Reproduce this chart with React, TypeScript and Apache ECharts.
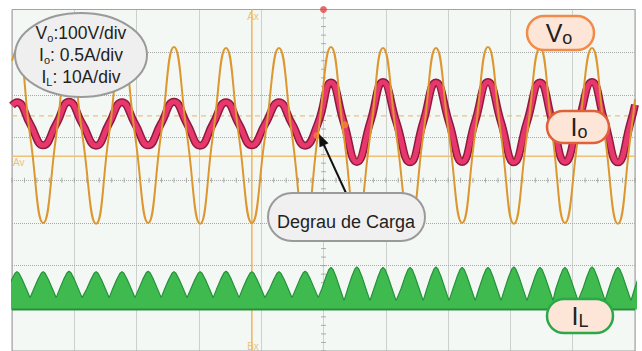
import React, { useEffect, useRef } from "react";
import * as echarts from "echarts";

// Time base: 20 ms/div, 10 divisions. Vertical: screen divisions (-4..4).
const timeMs = [
  0, 1.6, 5.8, 10.0, 14.2, 18.3, 22.6, 27.0, 31.1, 35.3, 39.5, 43.7, 47.8, 52.0,
  56.2, 60.4, 64.5, 68.7, 72.8, 77.0, 81.3, 85.7, 89.9, 94.1, 98.2, 102.4, 106.5,
  110.7, 115.0, 119.1, 123.4, 127.8, 132.0, 136.1, 140.3, 144.5, 148.6, 152.8,
  157.0, 161.1, 165.3, 169.5, 173.5, 177.5, 181.8, 186.2, 190.3, 194.5, 198.6, 200,
];

// Vo (100 V/div) read at peaks, crossings and troughs
const voValues = [
  2.8, 3.1, 1.05, -1.0, 1.05, 3.12, 1.05, -1.02, 1.05, 3.1, 1.05, -1.0, 1.05,
  3.12, 1.05, -1.02, 1.05, 3.1, 1.05, -1.0, 1.05, 3.1, 1.05, -1.02, 1.05, 3.12,
  1.05, -1.0, 1.05, 3.1, 1.05, -1.02, 1.05, 3.1, 1.05, -1.0, 1.05, 3.12, 1.05,
  -1.02, 1.05, 3.1, 1.05, -1.0, 1.05, 3.1, 1.05, -1.02, 1.05, 1.9,
];

// Io (0.5 A/div): small before the load step, larger after it
const ioValues = [
  1.75, 1.83, 1.32, 0.82, 1.32, 1.84, 1.32, 0.81, 1.32, 1.83, 1.32, 0.82, 1.32,
  1.84, 1.32, 0.81, 1.32, 1.83, 1.32, 0.82, 1.32, 1.83, 1.32, 0.81, 1.33, 2.29,
  1.36, 0.43, 1.36, 2.3, 1.36, 0.42, 1.36, 2.29, 1.36, 0.43, 1.36, 2.3, 1.36,
  0.42, 1.36, 2.29, 1.36, 0.43, 1.36, 2.3, 1.36, 0.42, 1.36, 1.77,
];

// IL (10 A/div): rectified humps on top of a switching band
const ilHumpTimes = [
  1.6, 10.0, 18.3, 27.0, 35.3, 43.7, 52.0, 60.4, 68.7, 77.0, 85.7, 94.1, 102.4,
  110.7, 119.1, 127.8, 136.1, 144.5, 152.8, 161.1, 169.5, 177.5, 186.2, 194.5, 202.8,
];
const ilHumpTops = [
  -2.14, -2.14, -2.13, -2.14, -2.14, -2.13, -2.14, -2.14, -2.13, -2.14, -2.14,
  -2.13, -2.04, -2.03, -2.04, -2.04, -2.03, -2.04, -2.04, -2.03, -2.04, -2.04,
  -2.03, -2.04, -2.04,
];
const ilCuspValues = [
  -2.75, -2.75, -2.75, -2.75, -2.75, -2.75, -2.75, -2.75, -2.75, -2.75, -2.75,
  -2.75, -2.82, -2.82, -2.82, -2.82, -2.82, -2.82, -2.82, -2.82, -2.82, -2.82,
  -2.82, -2.82, -2.82,
];
const ilBase = -3.03;
const humpProfileOffsets = [-1, -0.7, -0.4, -0.15, 0, 0.15, 0.4, 0.7, 1];
const humpProfileLevels = [0, 0.35, 0.7, 0.94, 1, 0.94, 0.7, 0.35, 0];
const ilHumpHalfWidth = 4.2;

// Cursors and markers
const cursorAxTime = 77.0;
const cursorAvLevel = 0.56;
const refDashedLevel = 1.51;
const triggerTime = 100;
const stepMarkers = [
  [97.9, 1.05],
  [106.9, 1.3],
];

const FONT = "'Liberation Sans', Arial, Helvetica, sans-serif";

export default function App() {
  const ref = useRef<HTMLDivElement>(null);

  useEffect(() => {
    if (!ref.current) return;
    const chart = echarts.init(ref.current, undefined, { renderer: "svg" });

    const voData = timeMs.map((t, i) => [t, voValues[i]]);
    const ioData = timeMs.map((t, i) => [t, ioValues[i]]);
    const ilData: number[][] = [];
    ilHumpTimes.forEach((c, i) => {
      humpProfileOffsets.forEach((f, j) => {
        if (i > 0 && j === 0) return;
        const base = ilCuspValues[i];
        ilData.push([
          c + f * ilHumpHalfWidth,
          base + (ilHumpTops[i] - base) * humpProfileLevels[j],
        ]);
      });
    });

    const hTicks: number[][] = [];
    for (let k = 0; k <= 50; k++) hTicks.push([k * 4, 0]);
    const vTicks: number[][] = [];
    for (let k = -20; k <= 20; k++) vTicks.push([triggerTime, k * 0.2]);

    const cursorColor = "#efc07a";

    const sub = (main: number, s: number, mlh: number, slh: number) => ({
      m: { fontSize: main, lineHeight: mlh, fontFamily: FONT, fill: "#222" },
      s: { fontSize: s, lineHeight: slh, verticalAlign: "bottom", fontFamily: FONT, fill: "#222" },
    });

    const option: any = {
      animation: false,
      backgroundColor: "#ffffff",
      grid: {
        left: 12,
        top: 9.5,
        width: 623,
        height: 348,
        show: true,
        backgroundColor: "#f4f8f4",
        borderColor: "#9c9c9c",
        borderWidth: 1,
      },
      xAxis: {
        type: "value",
        min: 0,
        max: 200,
        interval: 20,
        axisLabel: { show: false },
        axisTick: { show: false },
        axisLine: { show: false },
        splitLine: { lineStyle: { type: "dotted", color: "#a9a9a9", width: 1 } },
      },
      yAxis: {
        type: "value",
        min: -4,
        max: 4,
        interval: 1,
        axisLabel: { show: false },
        axisTick: { show: false },
        axisLine: { show: false },
        splitLine: { lineStyle: { type: "dotted", color: "#a9a9a9", width: 1 } },
      },
      series: [
        {
          type: "scatter",
          data: hTicks,
          symbol: "rect",
          symbolSize: [1, 5],
          itemStyle: { color: "#9a9a9a" },
          silent: true,
          z: 1,
        },
        {
          type: "scatter",
          data: vTicks,
          symbol: "rect",
          symbolSize: [5, 1],
          itemStyle: { color: "#9a9a9a" },
          silent: true,
          z: 1,
        },
        {
          type: "line",
          data: [
            [0, refDashedLevel],
            [200, refDashedLevel],
          ],
          symbol: "none",
          lineStyle: { color: cursorColor, width: 1.2, type: [5, 4] },
          z: 2,
        },
        {
          type: "line",
          data: [
            [0, cursorAvLevel],
            [200, cursorAvLevel],
          ],
          symbol: "none",
          lineStyle: { color: cursorColor, width: 1.5 },
          z: 2,
        },
        {
          type: "line",
          data: [
            [cursorAxTime, -4],
            [cursorAxTime, 4],
          ],
          symbol: "none",
          lineStyle: { color: "#f0b45a", width: 1.5 },
          z: 2,
        },
        {
          name: "IL",
          type: "line",
          data: ilData,
          symbol: "none",
          lineStyle: { color: "#24923a", width: 1.2 },
          areaStyle: { origin: ilBase, color: "#3fba4f", opacity: 1 },
          z: 3,
        },
        {
          type: "line",
          data: [
            [0, ilBase],
            [200, ilBase],
          ],
          symbol: "none",
          lineStyle: { color: "#2a8c3c", width: 2 },
          z: 3,
        },
        {
          name: "Io-edge",
          type: "line",
          data: ioData,
          smooth: 0.5,
          symbol: "none",
          lineStyle: { color: "#8e1a3e", width: 8 },
          z: 4,
        },
        {
          name: "Io",
          type: "line",
          data: ioData,
          smooth: 0.5,
          symbol: "none",
          lineStyle: { color: "#e8376d", width: 5 },
          z: 5,
        },
        {
          name: "Vo",
          type: "line",
          data: voData,
          smooth: 0.5,
          symbol: "none",
          lineStyle: { color: "#dc9730", width: 2 },
          z: 6,
        },
        {
          type: "scatter",
          data: stepMarkers,
          symbol: "circle",
          symbolSize: 7,
          itemStyle: { color: "#f08a30" },
          z: 7,
        },
        {
          type: "scatter",
          data: [[triggerTime, 4]],
          symbol: "circle",
          symbolSize: 7,
          itemStyle: { color: "#e04848" },
          z: 7,
        },
      ],
      graphic: [
        {
          type: "text",
          style: { text: "Ax", x: 253, y: 16, align: "center", verticalAlign: "middle", fontSize: 10, fontFamily: FONT, fill: "#efc07a" },
          z: 50,
        },
        {
          type: "text",
          style: { text: "Bx", x: 253, y: 346, align: "center", verticalAlign: "middle", fontSize: 10, fontFamily: FONT, fill: "#efc07a" },
          z: 50,
        },
        {
          type: "text",
          style: { text: "Av", x: 13, y: 162, align: "left", verticalAlign: "middle", fontSize: 10, fontFamily: FONT, fill: "#efc07a" },
          z: 50,
        },
        // Scale ellipse
        {
          type: "ellipse",
          shape: { cx: 81, cy: 55, rx: 66, ry: 42 },
          style: { fill: "#efefef", stroke: "#9a9a9a", lineWidth: 2 },
          z: 100,
        },
        {
          type: "text",
          z: 101,
          style: { text: "{m|V}{s|o}{m|:100V/div}", x: 81, y: 33, align: "center", verticalAlign: "middle", rich: sub(17.5, 11, 20, 10) },
        },
        {
          type: "text",
          z: 101,
          style: { text: "{m|I}{s|o}{m|: 0.5A/div}", x: 81, y: 55, align: "center", verticalAlign: "middle", rich: sub(17.5, 11, 20, 10) },
        },
        {
          type: "text",
          z: 101,
          style: { text: "{m|I}{s|L}{m|: 10A/div}", x: 81, y: 77, align: "center", verticalAlign: "middle", rich: sub(17.5, 11, 20, 10) },
        },
        // Vo bubble
        {
          type: "rect",
          shape: { x: 527, y: 16, width: 67, height: 34, r: 17 },
          style: { fill: "#fde6d8", stroke: "#f28a4a", lineWidth: 2.5 },
          z: 100,
        },
        {
          type: "text",
          z: 101,
          style: { text: "{m|V}{s|o}", x: 559, y: 33, align: "center", verticalAlign: "middle", rich: sub(25, 18, 28, 14) },
        },
        // Io bubble
        {
          type: "rect",
          shape: { x: 547, y: 111, width: 62, height: 32, r: 16 },
          style: { fill: "#fde6d8", stroke: "#e0603a", lineWidth: 2.5 },
          z: 100,
        },
        {
          type: "text",
          z: 101,
          style: { text: "{m|I}{s|o}", x: 579, y: 127, align: "center", verticalAlign: "middle", rich: sub(25, 18, 28, 14) },
        },
        // IL bubble
        {
          type: "rect",
          shape: { x: 547, y: 299, width: 66, height: 34, r: 17 },
          style: { fill: "#fde6d8", stroke: "#2aa84a", lineWidth: 2.5 },
          z: 100,
        },
        {
          type: "text",
          z: 101,
          style: { text: "{m|I}{s|L}", x: 580, y: 316, align: "center", verticalAlign: "middle", rich: sub(25, 18, 28, 14) },
        },
        // Arrow
        {
          type: "line",
          shape: { x1: 346, y1: 193, x2: 323.9, y2: 144.9 },
          style: { stroke: "#111", lineWidth: 2 },
          z: 100,
        },
        {
          type: "polygon",
          shape: { points: [[319, 134], [328.5, 143.2], [319.5, 147.2]] },
          style: { fill: "#111" },
          z: 100,
        },
        // Degrau de Carga bubble
        {
          type: "rect",
          shape: { x: 268, y: 193, width: 157, height: 48, r: 24 },
          style: { fill: "#f0f0f0", stroke: "#9a9a9a", lineWidth: 2 },
          z: 100,
        },
        {
          type: "text",
          z: 101,
          style: { text: "Degrau de Carga", x: 346, y: 222, align: "center", verticalAlign: "middle", fontSize: 18, fontFamily: FONT, fill: "#222" },
        },
      ],
    };

    chart.setOption(option);
    return () => chart.dispose();
  }, []);

  return (
    <div
      ref={ref}
      style={{ position: "absolute", left: 0, top: 0, width: 642, height: 351, background: "#fff" }}
    />
  );
}
